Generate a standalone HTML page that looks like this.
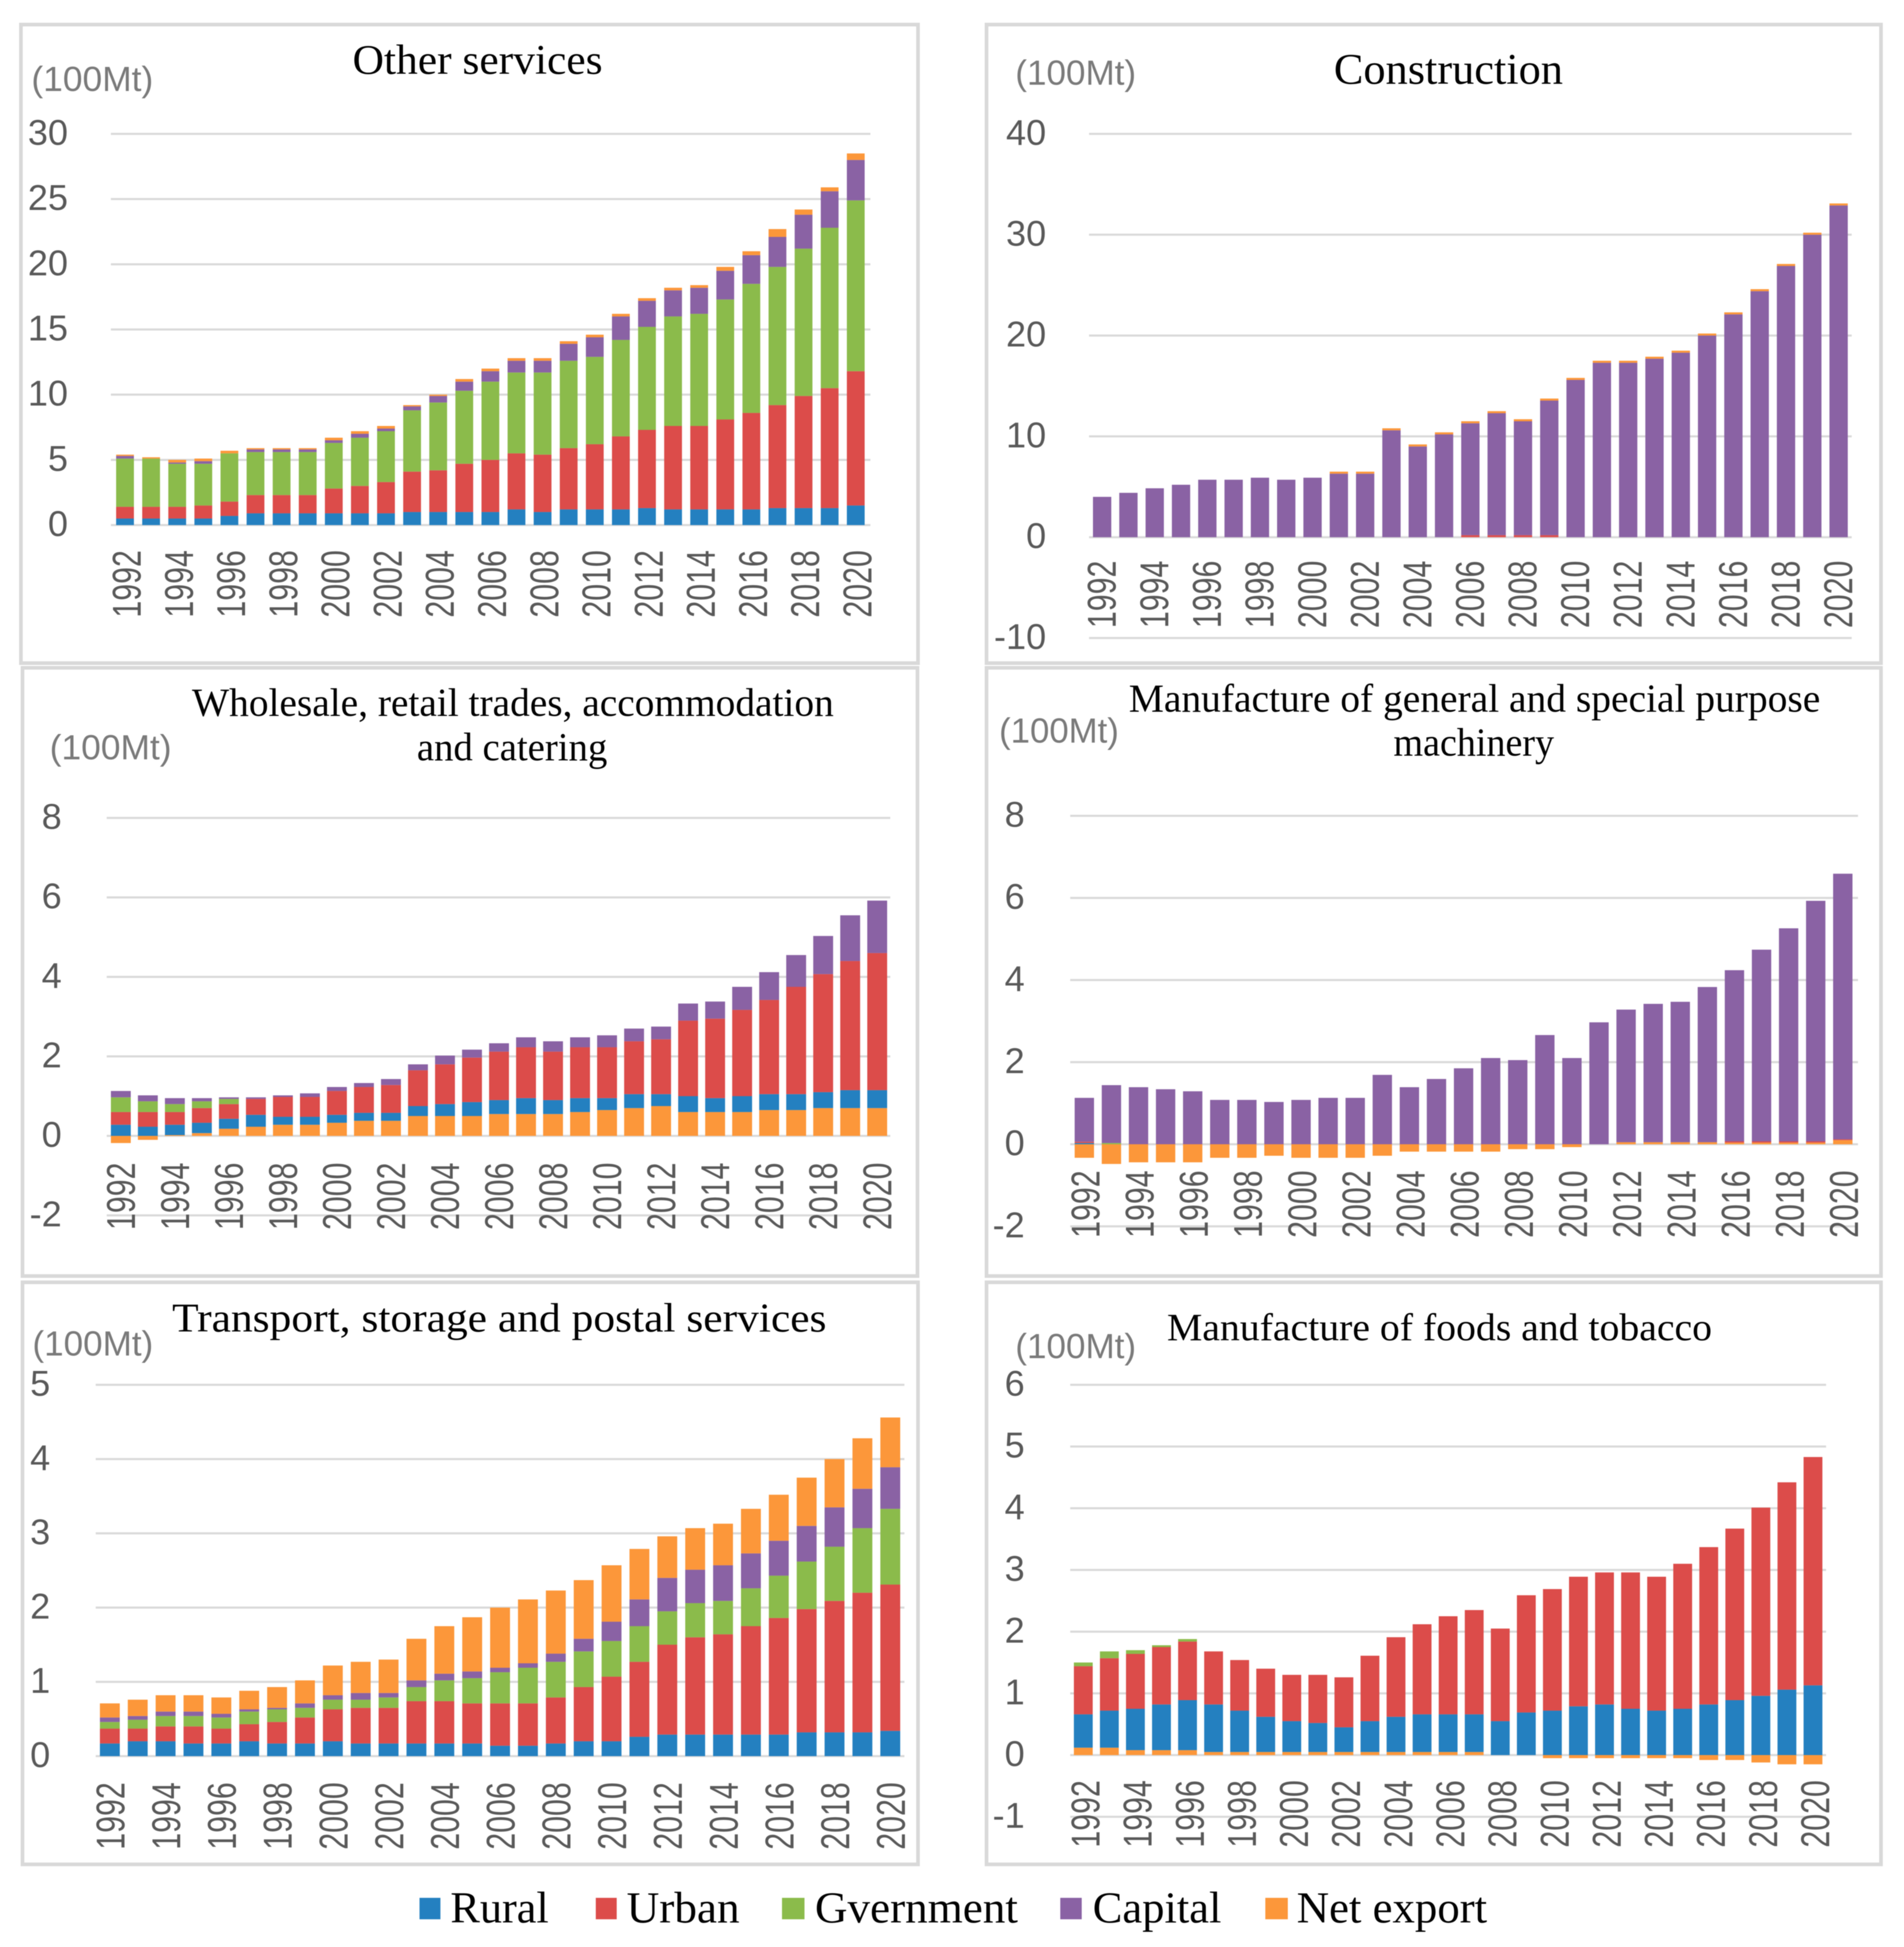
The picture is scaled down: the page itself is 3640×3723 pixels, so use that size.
<!DOCTYPE html>
<html lang="en">
<head>
<meta charset="utf-8">
<title>Stacked emissions by sector</title>
<style>
html,body{margin:0;padding:0;background:#fff;width:3640px;height:3723px;overflow:hidden}
svg{display:block;filter:blur(0.8px)}
.title{font-family:"Liberation Serif",serif;fill:#000}
.unit{font-family:"Liberation Sans",sans-serif;font-size:67px;fill:#7a7a7a}
.legend-text{font-family:"Liberation Serif",serif;font-size:85px;fill:#000}
.tick{font-family:"Liberation Sans",sans-serif;font-size:69px;fill:#595959}
.year{font-family:"Liberation Sans",sans-serif;font-size:58px;fill:#595959}
</style>
</head>
<body>
<svg id="figure" xmlns="http://www.w3.org/2000/svg" width="3640" height="3723" viewBox="0 0 3640 3723">
  <rect x="0" y="0" width="3640" height="3723" fill="#fff"/>
  <g id="panel-other">
    <rect x="40" y="47" width="1715" height="1221" fill="#fff" stroke="#d9d9d9" stroke-width="7"/>
    <text class="title" x="674" y="141" font-size="80" textLength="478" lengthAdjust="spacingAndGlyphs">Other services</text>
    <text class="unit" x="60" y="174" textLength="233" lengthAdjust="spacingAndGlyphs">(100Mt)</text>
  </g>
  <g id="panel-construction">
    <rect x="1886" y="47" width="1710" height="1221" fill="#fff" stroke="#d9d9d9" stroke-width="7"/>
    <text class="title" x="2550" y="160" font-size="84" textLength="438" lengthAdjust="spacingAndGlyphs">Construction</text>
    <text class="unit" x="1941" y="162" textLength="231" lengthAdjust="spacingAndGlyphs">(100Mt)</text>
  </g>
  <g id="panel-wholesale">
    <rect x="43" y="1277" width="1711" height="1163" fill="#fff" stroke="#d9d9d9" stroke-width="7"/>
    <text class="title" x="367" y="1369" font-size="76" textLength="1227" lengthAdjust="spacingAndGlyphs">Wholesale, retail trades, accommodation</text>
    <text class="title" x="797" y="1454" font-size="76" textLength="364" lengthAdjust="spacingAndGlyphs">and catering</text>
    <text class="unit" x="95" y="1452" textLength="233" lengthAdjust="spacingAndGlyphs">(100Mt)</text>
  </g>
  <g id="panel-machinery">
    <rect x="1886" y="1277" width="1710" height="1163" fill="#fff" stroke="#d9d9d9" stroke-width="7"/>
    <text class="title" x="2158" y="1361" font-size="76" textLength="1322" lengthAdjust="spacingAndGlyphs">Manufacture of general and special purpose</text>
    <text class="title" x="2664" y="1445" font-size="76" textLength="307" lengthAdjust="spacingAndGlyphs">machinery</text>
    <text class="unit" x="1910" y="1420" textLength="229" lengthAdjust="spacingAndGlyphs">(100Mt)</text>
  </g>
  <g id="panel-transport">
    <rect x="43" y="2452" width="1712" height="1113" fill="#fff" stroke="#d9d9d9" stroke-width="7"/>
    <text class="title" x="329" y="2546" font-size="78" textLength="1251" lengthAdjust="spacingAndGlyphs">Transport, storage and postal services</text>
    <text class="unit" x="62" y="2592" textLength="231" lengthAdjust="spacingAndGlyphs">(100Mt)</text>
  </g>
  <g id="panel-foods">
    <rect x="1886" y="2452" width="1710" height="1113" fill="#fff" stroke="#d9d9d9" stroke-width="7"/>
    <text class="title" x="2231" y="2563" font-size="74" textLength="1042" lengthAdjust="spacingAndGlyphs">Manufacture of foods and tobacco</text>
    <text class="unit" x="1941" y="2597" textLength="231" lengthAdjust="spacingAndGlyphs">(100Mt)</text>
  </g>
  <g>
    <g>
      <rect x="802" y="3629" width="40" height="41" fill="#2480c0"/>
      <text class="legend-text" x="861" y="3676" textLength="188" lengthAdjust="spacingAndGlyphs">Rural</text>
    </g>
    <g>
      <rect x="1139" y="3629" width="40" height="41" fill="#dc4c4a"/>
      <text class="legend-text" x="1198" y="3676" textLength="216" lengthAdjust="spacingAndGlyphs">Urban</text>
    </g>
    <g>
      <rect x="1495" y="3629" width="43" height="41" fill="#8bbb4b"/>
      <text class="legend-text" x="1558" y="3676" textLength="388" lengthAdjust="spacingAndGlyphs">Gvernment</text>
    </g>
    <g>
      <rect x="2027" y="3629" width="41" height="41" fill="#8a62a4"/>
      <text class="legend-text" x="2089" y="3676" textLength="246" lengthAdjust="spacingAndGlyphs">Capital</text>
    </g>
    <g>
      <rect x="2419" y="3629" width="43" height="41" fill="#fc973a"/>
      <text class="legend-text" x="2479" y="3676" textLength="364" lengthAdjust="spacingAndGlyphs">Net export</text>
    </g>
  </g>
</svg>
<script>
var years = [1992,1993,1994,1995,1996,1997,1998,1999,2000,2001,2002,2003,2004,2005,2006,2007,2008,2009,2010,2011,2012,2013,2014,2015,2016,2017,2018,2019,2020];

var otherTicks = [0,5,10,15,20,25,30];
var otherRural = [0.5,0.5,0.5,0.5,0.7,0.9,0.9,0.9,0.9,0.9,0.9,1,1,1,1,1.2,1,1.2,1.2,1.2,1.3,1.2,1.2,1.2,1.2,1.3,1.3,1.3,1.5];
var otherUrban = [0.9,0.9,0.9,1.0,1.1,1.4,1.4,1.4,1.9,2.1,2.4,3.1,3.2,3.7,4.0,4.3,4.4,4.7,5.0,5.6,6.0,6.4,6.4,6.9,7.4,7.9,8.6,9.2,10.3];
var otherGov = [3.7,3.7,3.3,3.2,3.7,3.3,3.3,3.3,3.5,3.7,3.9,4.7,5.2,5.6,6.0,6.2,6.3,6.7,6.7,7.4,7.9,8.4,8.6,9.2,9.9,10.6,11.3,12.3,13.1];
var otherCapital = [0.2,0,0.1,0.2,0,0.2,0.2,0.2,0.2,0.3,0.2,0.3,0.5,0.7,0.8,0.9,0.9,1.3,1.5,1.8,2,2,2,2.2,2.2,2.3,2.6,2.8,3.1];
var otherNet = [0.1,0.1,0.2,0.2,0.2,0.1,0.1,0.1,0.2,0.2,0.2,0.1,0.1,0.2,0.2,0.2,0.2,0.2,0.2,0.2,0.2,0.2,0.2,0.3,0.3,0.6,0.4,0.3,0.5];

var constructionTicks = [-10,0,10,20,30,40];
var constructionRural = [0,0,0,0,0,0,0,0,0,0,0,0,0,0,0,0,0,0,0,0,0,0,0,0,0,0,0,0,0];
var constructionUrban = [0,0,0,0,0,0,0,0,0,0,0,0,0,0,0.2,0.2,0.2,0.2,0,0,0,0,0,0,0,0,0,0,0];
var constructionGov = [0,0,0,0,0,0,0,0,0,0,0,0,0,0,0,0,0,0,0,0,0,0,0,0,0,0,0,0,0];
var constructionCapital = [4.0,4.4,4.85,5.2,5.7,5.7,5.9,5.7,5.9,6.3,6.3,10.6,9.0,10.2,11.1,12.1,11.3,13.35,15.6,17.3,17.3,17.7,18.3,20.0,22.1,24.4,26.9,30,32.9];
var constructionNet = [0,0,0,0,0,0,0,0,0,0.2,0.2,0.2,0.2,0.2,0.2,0.2,0.2,0.2,0.2,0.2,0.2,0.2,0.2,0.2,0.2,0.2,0.2,0.2,0.2];

var wholesaleTicks = [-2,0,2,4,6,8];
var wholesaleNet = [-0.18,-0.1,0.02,0.07,0.18,0.23,0.28,0.28,0.33,0.38,0.38,0.5,0.5,0.5,0.55,0.55,0.55,0.6,0.65,0.7,0.75,0.6,0.6,0.6,0.65,0.65,0.7,0.7,0.7];
var wholesaleRural = [0.28,0.23,0.26,0.26,0.25,0.30,0.20,0.20,0.20,0.20,0.20,0.25,0.30,0.35,0.35,0.40,0.35,0.35,0.30,0.35,0.30,0.40,0.35,0.40,0.40,0.40,0.40,0.45,0.45];
var wholesaleUrban = [0.32,0.37,0.32,0.37,0.37,0.40,0.50,0.50,0.60,0.65,0.70,0.90,1.0,1.12,1.22,1.28,1.22,1.28,1.28,1.33,1.38,1.9,2.0,2.17,2.37,2.7,2.97,3.25,3.45];
var wholesaleGov = [0.37,0.27,0.2,0.17,0.13,0,0,0,0,0,0,0,0,0,0,0,0,0,0,0,0,0,0,0,0,0,0,0,0];
var wholesaleCapital = [0.16,0.15,0.15,0.08,0.04,0.04,0.04,0.09,0.1,0.1,0.15,0.15,0.22,0.2,0.21,0.25,0.26,0.25,0.3,0.32,0.32,0.43,0.43,0.58,0.7,0.8,0.96,1.15,1.32];

var machineryTicks = [-2,0,2,4,6,8];
var machineryNet = [-0.33,-0.48,-0.44,-0.44,-0.44,-0.33,-0.33,-0.28,-0.33,-0.33,-0.33,-0.28,-0.18,-0.18,-0.18,-0.18,-0.12,-0.12,-0.07,0,0.05,0.05,0.05,0.05,0.04,0.04,0.04,0.04,0.1];
var machineryRural = [0.03,0,0,0,0,0,0,0,0,0,0,0,0,0,0,0,0,0,0,0,0,0,0,0,0,0,0,0,0];
var machineryUrban = [0.03,0,0,0,0,0,0,0,0,0,0,0,0,0,0,0,0,0,0,0,0,0,0,0,0.03,0.03,0.03,0.03,0.02];
var machineryGov = [0,0.03,0,0,0,0,0,0,0,0,0,0,0,0,0,0,0,0,0,0,0,0,0,0,0,0,0,0,0];
var machineryCapital = [1.07,1.41,1.39,1.34,1.29,1.08,1.08,1.03,1.08,1.13,1.13,1.69,1.39,1.59,1.85,2.1,2.05,2.66,2.1,2.97,3.23,3.37,3.42,3.78,4.17,4.67,5.19,5.86,6.47];

var transportTicks = [0,1,2,3,4,5];
var transportRural = [0.17,0.2,0.2,0.17,0.17,0.2,0.17,0.17,0.2,0.17,0.17,0.17,0.17,0.17,0.14,0.14,0.17,0.2,0.2,0.26,0.29,0.29,0.29,0.29,0.29,0.32,0.32,0.32,0.34];
var transportUrban = [0.2,0.17,0.2,0.23,0.2,0.23,0.29,0.35,0.43,0.48,0.48,0.57,0.57,0.54,0.57,0.57,0.62,0.73,0.87,1.01,1.21,1.31,1.35,1.46,1.57,1.66,1.77,1.88,1.97];
var transportGov = [0.09,0.12,0.14,0.14,0.15,0.17,0.17,0.13,0.13,0.11,0.14,0.19,0.28,0.34,0.42,0.48,0.48,0.48,0.48,0.48,0.45,0.46,0.45,0.51,0.57,0.64,0.73,0.87,1.02];
var transportCapital = [0.06,0.05,0.06,0.06,0.05,0.03,0.02,0.06,0.06,0.09,0.06,0.09,0.09,0.09,0.06,0.06,0.11,0.17,0.26,0.36,0.45,0.45,0.48,0.47,0.47,0.48,0.53,0.53,0.56];
var transportNet = [0.19,0.22,0.22,0.22,0.22,0.25,0.28,0.31,0.4,0.42,0.45,0.56,0.64,0.73,0.81,0.86,0.85,0.79,0.76,0.68,0.56,0.56,0.56,0.6,0.62,0.65,0.65,0.68,0.67];

var foodsTicks = [-1,0,1,2,3,4,5,6];
var foodsNet = [0.12,0.12,0.08,0.08,0.08,0.05,0.05,0.05,0.05,0.05,0.05,0.05,0.05,0.05,0.05,0.05,0,0,-0.05,-0.05,-0.05,-0.05,-0.05,-0.05,-0.08,-0.08,-0.12,-0.15,-0.15];
var foodsRural = [0.54,0.6,0.67,0.74,0.81,0.77,0.67,0.57,0.5,0.47,0.4,0.5,0.57,0.61,0.61,0.61,0.55,0.69,0.72,0.79,0.82,0.75,0.72,0.75,0.82,0.89,0.96,1.06,1.13];
var foodsUrban = [0.78,0.85,0.89,0.93,0.95,0.86,0.82,0.78,0.75,0.78,0.81,1.06,1.29,1.46,1.59,1.69,1.5,1.9,1.97,2.1,2.14,2.21,2.17,2.35,2.55,2.78,3.05,3.36,3.7];
var foodsGov = [0.06,0.11,0.06,0.03,0.04,0,0,0,0,0,0,0,0,0,0,0,0,0,0,0,0,0,0,0,0,0,0,0,0];
var foodsCapital = [0,0,0,0,0,0,0,0,0,0,0,0,0,0,0,0,0,0,0,0,0,0,0,0,0,0,0,0,0];

var colors = {rural:'#2480c0',urban:'#dc4c4a',gov:'#8bbb4b',capital:'#8a62a4',net:'#fc973a'};
var SVGNS = 'http://www.w3.org/2000/svg';

function make(tag, attrs, parent){
  var el = document.createElementNS(SVGNS, tag);
  for (var k in attrs) el.setAttribute(k, attrs[k]);
  parent.appendChild(el);
  return el;
}

function drawPanel(p){
  var root = document.getElementById(p.id);
  var minT = p.ticks[0], maxT = p.ticks[p.ticks.length-1];
  var yScale = function(v){ return p.yBottom - (v - minT) * (p.yBottom - p.yTop) / (maxT - minT); };
  var xScale = function(i){ return p.first + i * (p.last - p.first) / (years.length - 1); };

  p.ticks.forEach(function(t){
    var line = make('line', {x1:p.plotL, x2:p.plotR, y1:yScale(t), y2:yScale(t), stroke:'#d9d9d9', 'stroke-width':4}, root);
    
    
    var label = make('text', {'class':'tick', x:p.tickRight, y:yScale(t) + 21, 'text-anchor':'end'}, root);
    label.textContent = t;
    
    
  });

  years.forEach(function(year, i){
    var up = 0, down = 0;
    p.stack.forEach(function(s){
      var v = s.values[i];
      if (!v) return;
      var a, b;
      if (v >= 0) { a = up; b = up + v; up = b; }
      else { a = down; b = down + v; down = b; }
      var top = yScale(Math.max(a, b)), bottom = yScale(Math.min(a, b));
      var bar = make('rect', {x:xScale(i) - p.barW / 2, y:top, width:p.barW, height:bottom - top, fill:colors[s.key]}, root);
      
      
    });
  });

  years.forEach(function(year, i){
    if (i % 2) return;
    var label = make('text', {'class':'year', transform:'translate(' + (xScale(i) + p.yearDx + 26) + ',' + p.yearBottom + ') rotate(-90) scale(1,1.32)'}, root);
    label.textContent = year;
    
    
  });
}

drawPanel({id:'panel-other', ticks:otherTicks, yTop:256, yBottom:1004, plotL:212, plotR:1664, first:239, last:1636, barW:34, tickRight:130, yearBottom:1181, yearDx:4,
  stack:[{key:'rural',values:otherRural},{key:'urban',values:otherUrban},{key:'gov',values:otherGov},{key:'capital',values:otherCapital},{key:'net',values:otherNet}]});
drawPanel({id:'panel-construction', ticks:constructionTicks, yTop:256, yBottom:1220, plotL:2082, plotR:3540, first:2107, last:3515, barW:35, tickRight:2000, yearBottom:1201, yearDx:0,
  stack:[{key:'rural',values:constructionRural},{key:'urban',values:constructionUrban},{key:'gov',values:constructionGov},{key:'capital',values:constructionCapital},{key:'net',values:constructionNet}]});
drawPanel({id:'panel-wholesale', ticks:wholesaleTicks, yTop:1564, yBottom:2324, plotL:204, plotR:1702, first:231, last:1677, barW:38, tickRight:118, yearBottom:2352, yearDx:1,
  stack:[{key:'net',values:wholesaleNet},{key:'rural',values:wholesaleRural},{key:'urban',values:wholesaleUrban},{key:'gov',values:wholesaleGov},{key:'capital',values:wholesaleCapital}]});
drawPanel({id:'panel-machinery', ticks:machineryTicks, yTop:1560, yBottom:2345, plotL:2046, plotR:3552, first:2073, last:3523, barW:37, tickRight:1959, yearBottom:2367, yearDx:3,
  stack:[{key:'net',values:machineryNet},{key:'rural',values:machineryRural},{key:'urban',values:machineryUrban},{key:'gov',values:machineryGov},{key:'capital',values:machineryCapital}]});
drawPanel({id:'panel-transport', ticks:transportTicks, yTop:2648, yBottom:3358, plotL:183, plotR:1729, first:210, last:1702, barW:38, tickRight:96, yearBottom:3537, yearDx:2,
  stack:[{key:'rural',values:transportRural},{key:'urban',values:transportUrban},{key:'gov',values:transportGov},{key:'capital',values:transportCapital},{key:'net',values:transportNet}]});
drawPanel({id:'panel-foods', ticks:foodsTicks, yTop:2648, yBottom:3474, plotL:2046, plotR:3491, first:2071, last:3466, barW:36, tickRight:1959, yearBottom:3533, yearDx:5,
  stack:[{key:'net',values:foodsNet},{key:'rural',values:foodsRural},{key:'urban',values:foodsUrban},{key:'gov',values:foodsGov},{key:'capital',values:foodsCapital}]});
</script>
</body>
</html>
